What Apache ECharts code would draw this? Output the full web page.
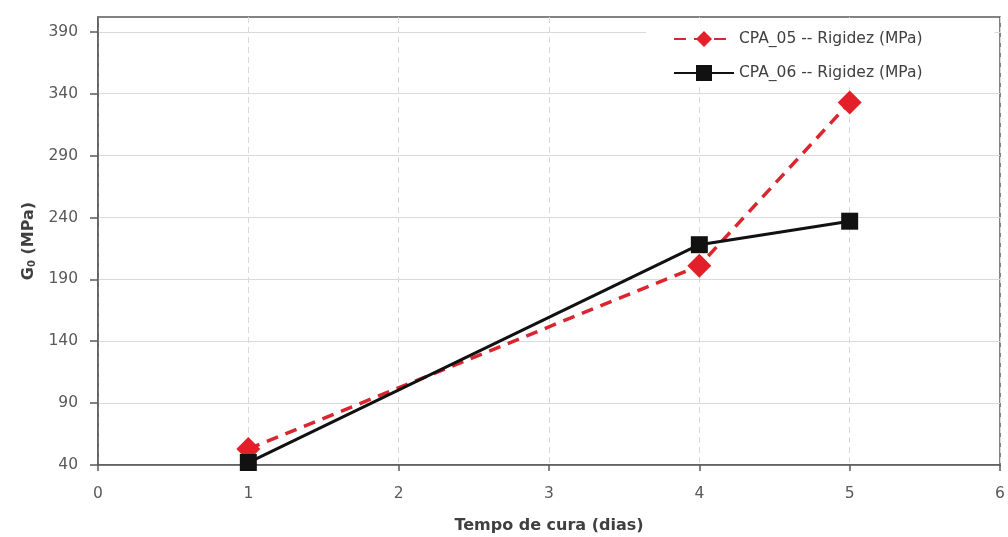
<!DOCTYPE html>
<html>
<head>
<meta charset="utf-8">
<title>Rigidez x Tempo de cura</title>
<script src="https://cdn.jsdelivr.net/npm/echarts@6/dist/echarts.min.js"></script>
<style>
  html, body { margin: 0; padding: 0; background: #fff; }
  #chart { width: 1008px; height: 537px; }
</style>
</head>
<body>
<div id="chart"></div>
<script>
// Curing time (days) and stiffness G0 (MPa) for each specimen
const days = [1, 4, 5];
const cpa05 = [53, 201, 333];
const cpa06 = [42, 218, 237];
const seriesNames = ['CPA_05 -- Rigidez (MPa)', 'CPA_06 -- Rigidez (MPa)'];
const yTicks = [40, 90, 140, 190, 240, 290, 340, 390];
const xTicks = [0, 1, 2, 3, 4, 5, 6];

const FONT = '"DejaVu Sans", "Open Sans", sans-serif';
const AXIS_GRAY = '#595959';
const GRID_GRAY = '#d9d9d9';

const pairs = (xs, ys) => xs.map((x, i) => [x, ys[i]]);

const chart = echarts.init(document.getElementById('chart'), null, { renderer: 'canvas' });

chart.setOption({
  animation: false,
  backgroundColor: '#fff',
  textStyle: { fontFamily: FONT },
  grid: {
    left: 98, right: 8, top: 17, bottom: 72,
    outerBoundsMode: 'none',
    show: true, borderColor: '#5a5a5a', borderWidth: 1.5, backgroundColor: 'transparent'
  },
  legend: {
    orient: 'vertical',
    left: 646, top: 18,
    padding: [13, 72, 6, 27],
    backgroundColor: '#fff',
    itemWidth: 60, itemHeight: 20, itemGap: 18,
    textStyle: { fontFamily: FONT, fontSize: 15.5, color: '#404040' },
    data: seriesNames
  },
  xAxis: {
    type: 'value',
    min: xTicks[0], max: xTicks[xTicks.length - 1], interval: 1,
    name: 'Tempo de cura (dias)',
    nameLocation: 'middle', nameGap: 53,
    nameTextStyle: { fontFamily: FONT, fontSize: 16, fontWeight: 'bold', color: '#404040' },
    axisLine: { show: true, lineStyle: { color: '#5a5a5a', width: 1.5 } },
    axisTick: { show: true, inside: false, length: 6, lineStyle: { color: '#5a5a5a', width: 1.5 } },
    axisLabel: { margin: 21, fontSize: 15.5, color: AXIS_GRAY, fontFamily: FONT },
    splitLine: { show: true, lineStyle: { color: GRID_GRAY, type: [6, 4], width: 1 } }
  },
  yAxis: {
    type: 'value',
    min: yTicks[0], max: 402, interval: 50,
    name: '{g|G}{s|0}{g| (MPa)}',
    nameLocation: 'middle', nameGap: 58, nameRotate: 90,
    nameTextStyle: {
      color: '#404040',
      rich: {
        g: { fontFamily: FONT, fontSize: 16, fontWeight: 'bold', color: '#404040' },
        s: { fontFamily: FONT, fontSize: 10, fontWeight: 'bold', color: '#404040', verticalAlign: 'bottom', padding: [8, 0, 0, 0] }
      }
    },
    axisLine: { show: true, lineStyle: { color: '#5a5a5a', width: 1.5 } },
    axisTick: { show: true, inside: false, length: 8, customValues: yTicks, lineStyle: { color: '#5a5a5a', width: 1.5 } },
    axisLabel: { margin: 20, fontSize: 15.5, color: AXIS_GRAY, fontFamily: FONT, customValues: yTicks },
    splitLine: { show: true, lineStyle: { color: GRID_GRAY, width: 1 } }
  },
  series: [
    {
      name: seriesNames[0],
      type: 'line',
      data: pairs(days, cpa05),
      symbol: 'diamond',
      symbolSize: [24, 24],
      itemStyle: { color: '#e3202a' },
      lineStyle: { color: '#d9262f', width: 3.5, type: [12, 8] },
      z: 2
    },
    {
      name: seriesNames[1],
      type: 'line',
      data: pairs(days, cpa06),
      symbol: 'rect',
      symbolSize: 17,
      itemStyle: { color: '#111' },
      lineStyle: { color: '#111', width: 3 },
      z: 3
    }
  ]
});
</script>
</body>
</html>
